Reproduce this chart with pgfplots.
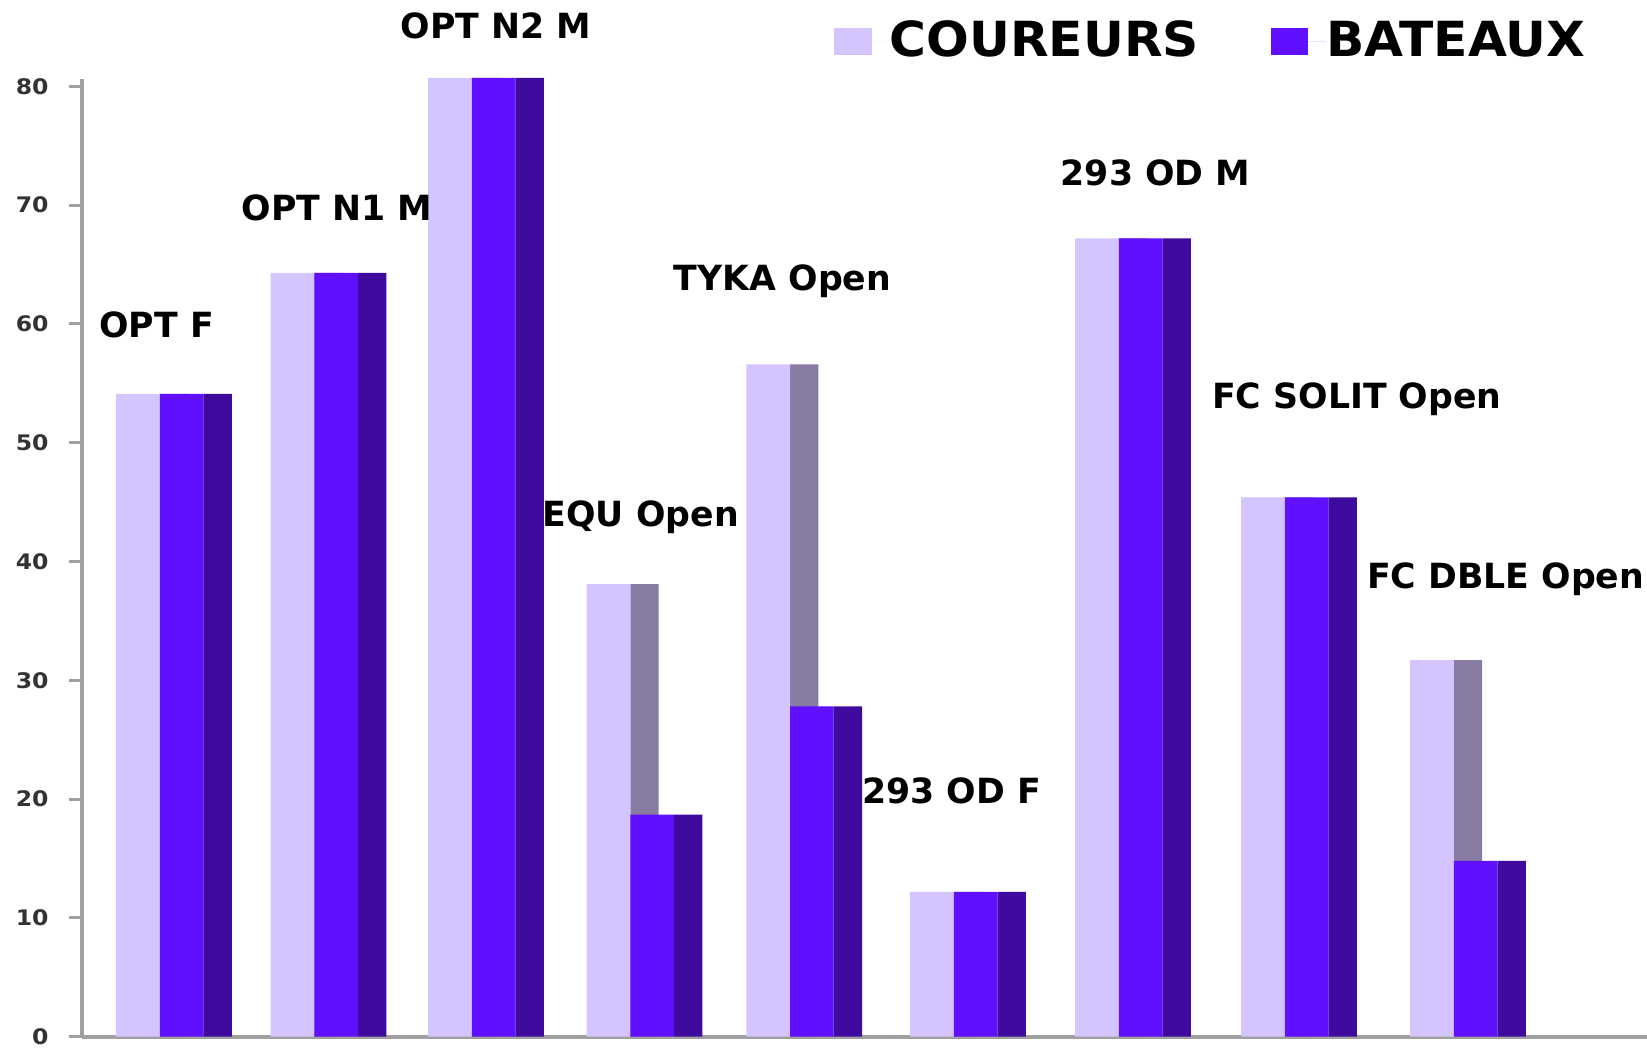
\documentclass[border=0pt]{standalone}
\usepackage{pgfplots}
\pgfplotsset{compat=1.18}
\usepackage{pgfplotstable}
\usepackage{fontspec}
\setmainfont{DejaVu Sans}
\newfontfamily\tickfont[FakeStretch=1.1]{DejaVu Sans}
\newfontfamily\legfont[FakeStretch=1.04]{DejaVu Sans}
\definecolor{lav}{HTML}{D4C4FF}
\definecolor{purp}{HTML}{6010FF}
\definecolor{dside}{HTML}{3F0A9E}
\definecolor{gside}{HTML}{877AA3}
\definecolor{axgray}{HTML}{A0A0A0}

% x = group position, c = COUREURS, b = BATEAUX
\pgfplotstableread{
x      c     b
0.000  54.1  54.1
0.955  64.3  64.3
1.929  80.7  80.7
2.909  38.1  18.7
3.896  56.6  27.8
4.909  12.2  12.2
5.929  67.2  67.2
6.955  45.4  45.4
8.000  31.7  14.8
}\data

\pgfplotstableread{
x      y     label
-0.110 59.9  {OPT F}
1.006  69.8  {OPT N1 M}
1.987  85.1  {OPT N2 M}
2.883  43.7  {EQU Open}
3.760  63.6  {TYKA Open}
4.805  20.7  {293 OD F}
6.065  72.7  {293 OD M}
7.310  53.7  {FC SOLIT Open}
8.230  38.5  {FC DBLE Open}
}\labels

\begin{document}
\begin{tikzpicture}
\useasboundingbox (-7.8mm,-2.1mm) rectangle (149mm,98.7mm);
\begin{axis}[
  scale only axis,
  width=149mm, height=91.16mm,
  xmin=-0.5714, xmax=9.104,
  ymin=0, ymax=80.6,
  clip=false,
  axis x line=bottom, axis y line=left,
  axis line style={draw=axgray, line width=1.2pt, -},
  xtick=\empty,
  ytick={0,10,...,80},
  tick align=outside,
  major tick length=1.2mm,
  y tick style={draw=axgray, line width=0.8pt},
  /pgf/number format/assume math mode=true,
  yticklabel style={font=\tickfont\bfseries\fontsize{5.8}{7}\selectfont, text=black!80, inner sep=0pt, anchor=east, xshift=-1.9mm},
  legend style={draw=none, fill=none, at={(axis cs:4.005,83.77)}, anchor=west,
    font=\legfont\bfseries\fontsize{13.1}{15}\selectfont, legend columns=2,
    column sep=0pt, nodes={inner sep=0pt},
    /tikz/every even column/.append style={column sep=6.8mm}},
]
% side face of COUREURS bars (visible above the BATEAUX bar)
\addplot[ybar, draw=none, fill=gside, bar width=0.175, bar shift=-0.0025, forget plot]
  table[x=x, y=c] {\data};
% front faces
\addplot[ybar, draw=none, fill=lav, bar width=0.27, bar shift=-0.225,
  legend image code/.code={\fill[lav] (0mm,-1.3mm) rectangle (3.6mm,1.3mm); \path (0,0) -- (5.3mm,0);}]
  table[x=x, y=c] {\data};
\addlegendentry{COUREURS}
\addplot[ybar, draw=none, fill=purp, bar width=0.27, bar shift=0.045,
  legend image code/.code={\fill[purp] (0mm,-1.3mm) rectangle (3.6mm,1.3mm); \path (0,0) -- (5.3mm,0);}]
  table[x=x, y=b] {\data};
\addlegendentry{BATEAUX}
% side face of BATEAUX bars
\addplot[ybar, draw=none, fill=dside, bar width=0.175, bar shift=0.2675, forget plot]
  table[x=x, y=b] {\data};
% category labels
\addplot[draw=none, mark=none, forget plot, nodes near coords, point meta=explicit symbolic,
  every node near coord/.style={anchor=center, inner sep=0pt, font=\bfseries\fontsize{9.4}{11}\selectfont, text=black}]
  table[x=x, y=y, meta=label] {\labels};
\end{axis}
\end{tikzpicture}
\end{document}
